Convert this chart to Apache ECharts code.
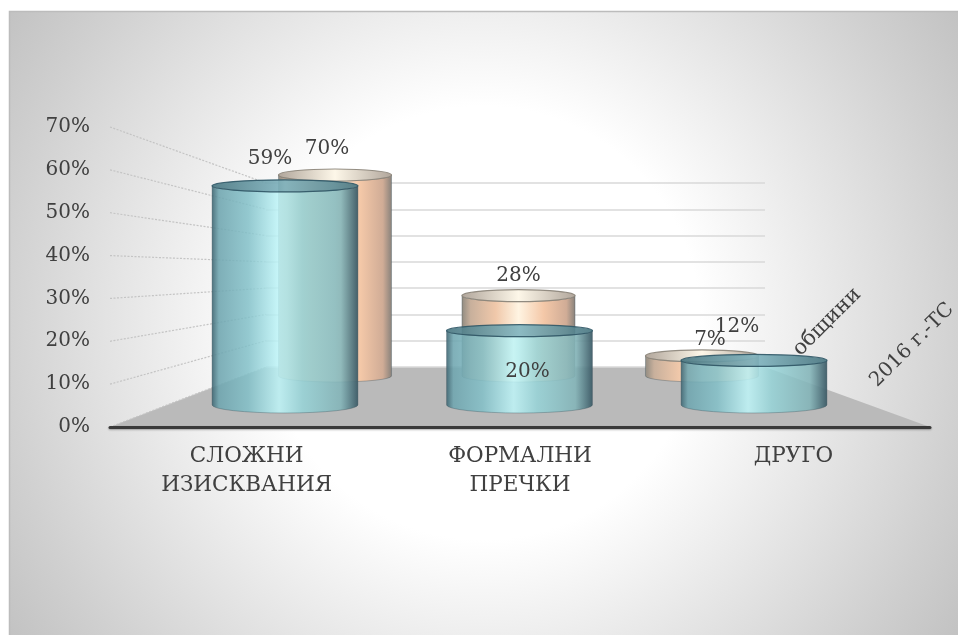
<!DOCTYPE html>
<html>
<head>
<meta charset="utf-8">
<style>html,body{margin:0;padding:0;background:#fff}#c{width:958px;height:635px}</style>
<script src="https://cdn.jsdelivr.net/npm/echarts@6/dist/echarts.min.js"></script>
</head>
<body>
<div id="c"></div>
<script>
// Values
const categories = ['СЛОЖНИ\nИЗИСКВАНИЯ', 'ФОРМАЛНИ\nПРЕЧКИ', 'ДРУГО'];
const seriesNames = ['2016 г.-ТС', 'общини'];
const valuesTC = [59, 20, 12];
const valuesMunicipalities = [70, 28, 7];
const wallTicks = [0, 10, 20, 30, 40, 50, 60, 70];

// Value label offsets from the centre of each cylinder top
const frontLabelOffset = [[-15, -27], [8, 41], [-17, -34]];
const backLabelOffset = [[-8, -26], [0, -20], [8, -16]];

const FONT = '"DejaVu Serif", serif';
const TEXT = '#404040';

const tealSide = {
  type: 'linear', x: 0, y: 0, x2: 1, y2: 0,
  colorStops: [
    { offset: 0, color: 'rgba(62,100,112,0.92)' },
    { offset: 0.05, color: 'rgba(110,165,175,0.88)' },
    { offset: 0.25, color: 'rgba(130,192,200,0.85)' },
    { offset: 0.46, color: 'rgba(190,245,248,0.85)' },
    { offset: 0.62, color: 'rgba(150,212,216,0.85)' },
    { offset: 0.88, color: 'rgba(130,180,184,0.88)' },
    { offset: 1, color: 'rgba(58,88,100,0.95)' }
  ]
};
const tealTop = {
  type: 'linear', x: 0, y: 0, x2: 1, y2: 0,
  colorStops: [
    { offset: 0, color: '#46747f' },
    { offset: 0.5, color: '#7fb4bf' },
    { offset: 1, color: '#46747f' }
  ]
};
const peachSide = {
  type: 'linear', x: 0, y: 0, x2: 1, y2: 0,
  colorStops: [
    { offset: 0, color: '#8f8a80' },
    { offset: 0.08, color: '#c8b09c' },
    { offset: 0.3, color: '#f0c8aa' },
    { offset: 0.5, color: '#fff4e2' },
    { offset: 0.72, color: '#f4c8a8' },
    { offset: 0.92, color: '#d0ac96' },
    { offset: 1, color: '#85807a' }
  ]
};
const peachTop = {
  type: 'linear', x: 0, y: 0, x2: 1, y2: 0,
  colorStops: [
    { offset: 0, color: '#a89c90' },
    { offset: 0.5, color: '#fdf6e6' },
    { offset: 1, color: '#a89c90' }
  ]
};

// One cylinder per data item, sized from the category band and the value axis
function cylinder(sideFill, topFill, topStroke, widthRatio, ryTop, ryBottom, offsets) {
  return function (params, api) {
    const idx = api.value(0);
    const val = api.value(1);
    const top = api.coord([idx, val]);
    const base = api.coord([idx, 0]);
    const rx = api.size([1, 0])[0] * widthRatio;
    const cx = top[0], l = cx - rx, r = cx + rx, yt = top[1], yb = base[1];
    const body = `M${l} ${yt}L${l} ${yb}A${rx} ${ryBottom} 0 0 0 ${r} ${yb}L${r} ${yt}A${rx} ${ryTop} 0 0 1 ${l} ${yt}Z`;
    const off = offsets[idx];
    return {
      type: 'group',
      children: [
        { type: 'path', shape: { pathData: body }, style: { fill: sideFill, stroke: 'rgba(60,80,90,0.35)', lineWidth: 1 } },
        { type: 'ellipse', shape: { cx: cx, cy: yt, rx: rx, ry: ryTop }, style: { fill: topFill, stroke: topStroke, lineWidth: 1.2, opacity: 0.9 } },
        { type: 'text', z2: 20, style: { text: val + '%', x: cx + off[0], y: yt + off[1], align: 'center', verticalAlign: 'middle', font: '20px ' + FONT, fill: TEXT } }
      ]
    };
  };
}

const chart = echarts.init(document.getElementById('c'), null, { renderer: 'canvas' });

// Receding lines of the left wall, from the front value axis to the back wall axis
function wallLine(params, api) {
  const v = api.value(1);
  const front = api.coord([0, v]);
  const frontX = front[0] - api.size([1, 0])[0] / 2;
  const backY = chart.convertToPixel({ yAxisIndex: 1 }, v);
  const backX = chart.convertToPixel({ xAxisIndex: 1 }, 0);
  return {
    type: 'line',
    shape: { x1: frontX, y1: front[1], x2: backX, y2: backY },
    style: { stroke: '#c4c4c4', lineWidth: 1.2, lineDash: [2, 1.5] }
  };
}

chart.setOption({
  animation: false,
  grid: [
    { left: 110, width: 820, top: 127, height: 300 },   // front axis plane
    { left: 266, width: 499, top: 183, height: 184 },   // back wall
    { left: 167.75, width: 703.5, top: 145, height: 260 },  // front row of cylinders
    { left: 243.25, width: 550.5, top: 175, height: 201 }   // back row of cylinders
  ],
  xAxis: [
    {
      gridIndex: 0, type: 'category', data: categories, z: 5,
      axisTick: { show: false },
      axisLine: { lineStyle: { color: '#3a3a3a', width: 3, shadowColor: 'rgba(0,0,0,0.3)', shadowBlur: 2, shadowOffsetY: 1 } },
      axisLabel: { margin: 15, lineHeight: 29, fontSize: 21.5, fontFamily: FONT, color: TEXT }
    },
    { gridIndex: 1, type: 'value', min: 0, max: 1, show: false },
    { gridIndex: 2, type: 'category', data: categories, show: false },
    { gridIndex: 3, type: 'category', data: categories, show: false }
  ],
  yAxis: [
    {
      gridIndex: 0, type: 'value', min: 0, max: 70, interval: 10, z: 5,
      axisLine: { show: false }, axisTick: { show: false }, splitLine: { show: false },
      axisLabel: { margin: 20, padding: [8, 0, 0, 0], formatter: '{value}%', fontSize: 20, fontFamily: FONT, color: TEXT }
    },
    {
      gridIndex: 1, type: 'value', min: 0, max: 70, interval: 10, z: 1,
      axisLine: { show: false }, axisTick: { show: false }, axisLabel: { show: false },
      splitLine: { show: true, lineStyle: { color: '#d8d8d8', width: 1.5 } }
    },
    { gridIndex: 2, type: 'value', min: 0, max: 70, show: false },
    { gridIndex: 3, type: 'value', min: 0, max: 70, show: false }
  ],
  series: [
    {
      type: 'custom', name: 'wall', xAxisIndex: 0, yAxisIndex: 0, z: 1, silent: true,
      data: wallTicks.map(v => [0, v]),
      renderItem: wallLine
    },
    {
      type: 'custom', name: seriesNames[1], xAxisIndex: 3, yAxisIndex: 3, z: 2,
      data: valuesMunicipalities.map((v, i) => [i, v]),
      renderItem: cylinder(peachSide, peachTop, '#8a8378', 0.308, 6, 6, backLabelOffset)
    },
    {
      type: 'custom', name: seriesNames[0], xAxisIndex: 2, yAxisIndex: 2, z: 3,
      data: valuesTC.map((v, i) => [i, v]),
      renderItem: cylinder(tealSide, tealTop, '#2f5666', 0.311, 6, 8, frontLabelOffset)
    }
  ],
  graphic: {
    elements: [
      {
        type: 'rect', z: -10, silent: true,
        shape: { x: 9.5, y: 11.5, width: 960, height: 640 },
        style: {
          stroke: '#bcbcbc', lineWidth: 1.5,
          fill: {
            type: 'radial', x: 483, y: 323, r: 570, global: true,
            colorStops: [
              { offset: 0, color: '#ffffff' },
              { offset: 0.38, color: '#ffffff' },
              { offset: 0.55, color: '#eeeeee' },
              { offset: 0.85, color: '#d0d0d0' },
              { offset: 1, color: '#c2c2c2' }
            ]
          }
        }
      },
      {
        type: 'polygon', z: -1, silent: true,
        shape: { points: [[110, 427], [266, 367], [765, 367], [930, 427]] },
        style: { fill: '#bababa' }
      },
      {
        type: 'text', z: 6, x: 827, y: 322, rotation: Math.PI / 4, silent: true,
        style: { text: seriesNames[1], align: 'center', verticalAlign: 'middle', font: '21px ' + FONT, fill: TEXT }
      },
      {
        type: 'text', z: 6, x: 912, y: 345, rotation: Math.PI / 4, silent: true,
        style: { text: seriesNames[0], align: 'center', verticalAlign: 'middle', font: '20px ' + FONT, fill: TEXT }
      }
    ]
  }
});
</script>
</body>
</html>
